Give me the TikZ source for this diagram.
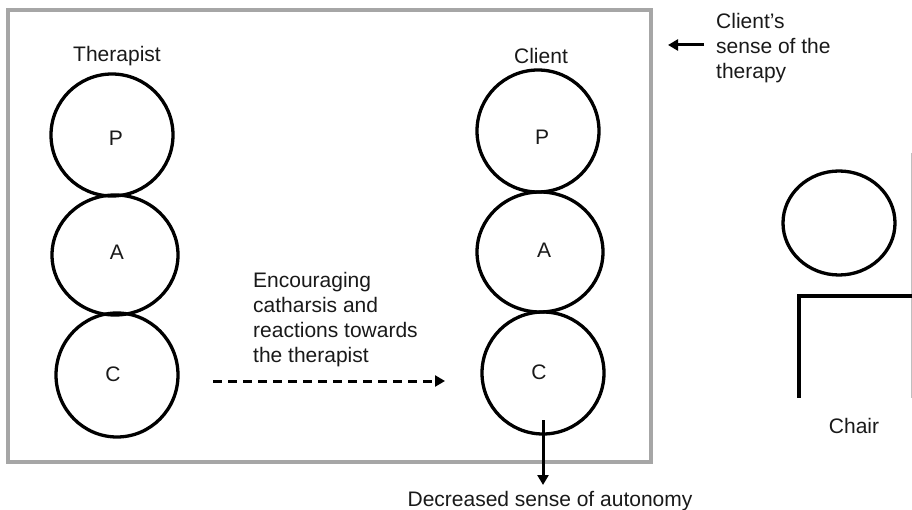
\documentclass[tikz,border=0pt]{standalone}
\usepackage{fontspec}
\setmainfont{Liberation Sans}
\usetikzlibrary{shapes.geometric,arrows.meta}
\tikzset{
	egostate/.style={draw=black, ellipse, line width=3.3pt, inner sep=0pt},
	lbl/.style={font=\fontsize{21}{25}\selectfont, text=black!90, inner sep=0pt},
	blockarrow/.style={line width=3pt, -{Triangle[length=10pt,width=11pt]}},
}
\begin{document}
\begin{tikzpicture}[x=1pt,y=-1pt]
	\useasboundingbox (0,0) rectangle (912,510);
	\draw [line width=3.8pt, black!35] (8,10) rectangle (651,462);

	% therapist
	\node [egostate, minimum width=122pt, minimum height=122pt] (tp) at (112,135) {};
	\node [egostate, minimum width=126pt, minimum height=120pt] (ta) at (115,255) {};
	\node [egostate, minimum width=122pt, minimum height=124pt] (tc) at (117,375) {};
	\node [lbl] (therapist) at (117,56) {Therapist};
	\node [lbl] (tpl) at (116,138) {P};
	\node [lbl] (tal) at (117,252) {A};
	\node [lbl] (tcl) at (113,374) {C};

	% client
	\node [egostate, minimum width=122pt, minimum height=122pt] (cp) at (538,131) {};
	\node [egostate, minimum width=126pt, minimum height=120pt] (ca) at (540,252) {};
	\node [egostate, minimum width=122pt, minimum height=122pt] (cc) at (543,373) {};
	\node [lbl] (client) at (541,56) {Client};
	\node [lbl] (cpl) at (542,137) {P};
	\node [lbl] (cal) at (544,250) {A};
	\node [lbl] (ccl) at (539,372) {C};

	% text and arrows
	\node [lbl, anchor=west, align=left] (catharsis) at (253,320) {Encouraging\\catharsis and\\reactions towards\\the therapist};
	\coordinate (dashstart) at (213,381);
	\coordinate (dashend) at (445,381);
	\draw [blockarrow, dash pattern=on 9pt off 6pt] (dashstart) -- (dashend);

	\node [lbl, anchor=west, align=left] (sense) at (716,48) {Client’s\\sense of the\\therapy};
	\coordinate (sensestart) at (704,45);
	\coordinate (senseend) at (668,45);
	\draw [blockarrow] (sensestart) -- (senseend);

	\coordinate (autostart) at (543,420);
	\node [lbl] (autonomy) at (550,501) {Decreased sense of autonomy};
	\coordinate (autoend) at (543,485);
	\draw [blockarrow] (autostart) -- (autoend);

	% chair
	\node [egostate, minimum width=112pt, minimum height=104pt] (head) at (839,223) {};
	\draw [line width=0.8pt, black!25] (911.5,153) -- (911.5,398);
	\draw [line width=3.4pt] (912,296) -- (799,296) -- (799,398);
	\node [lbl] (chair) at (854,426) {Chair};
\end{tikzpicture}
\end{document}
